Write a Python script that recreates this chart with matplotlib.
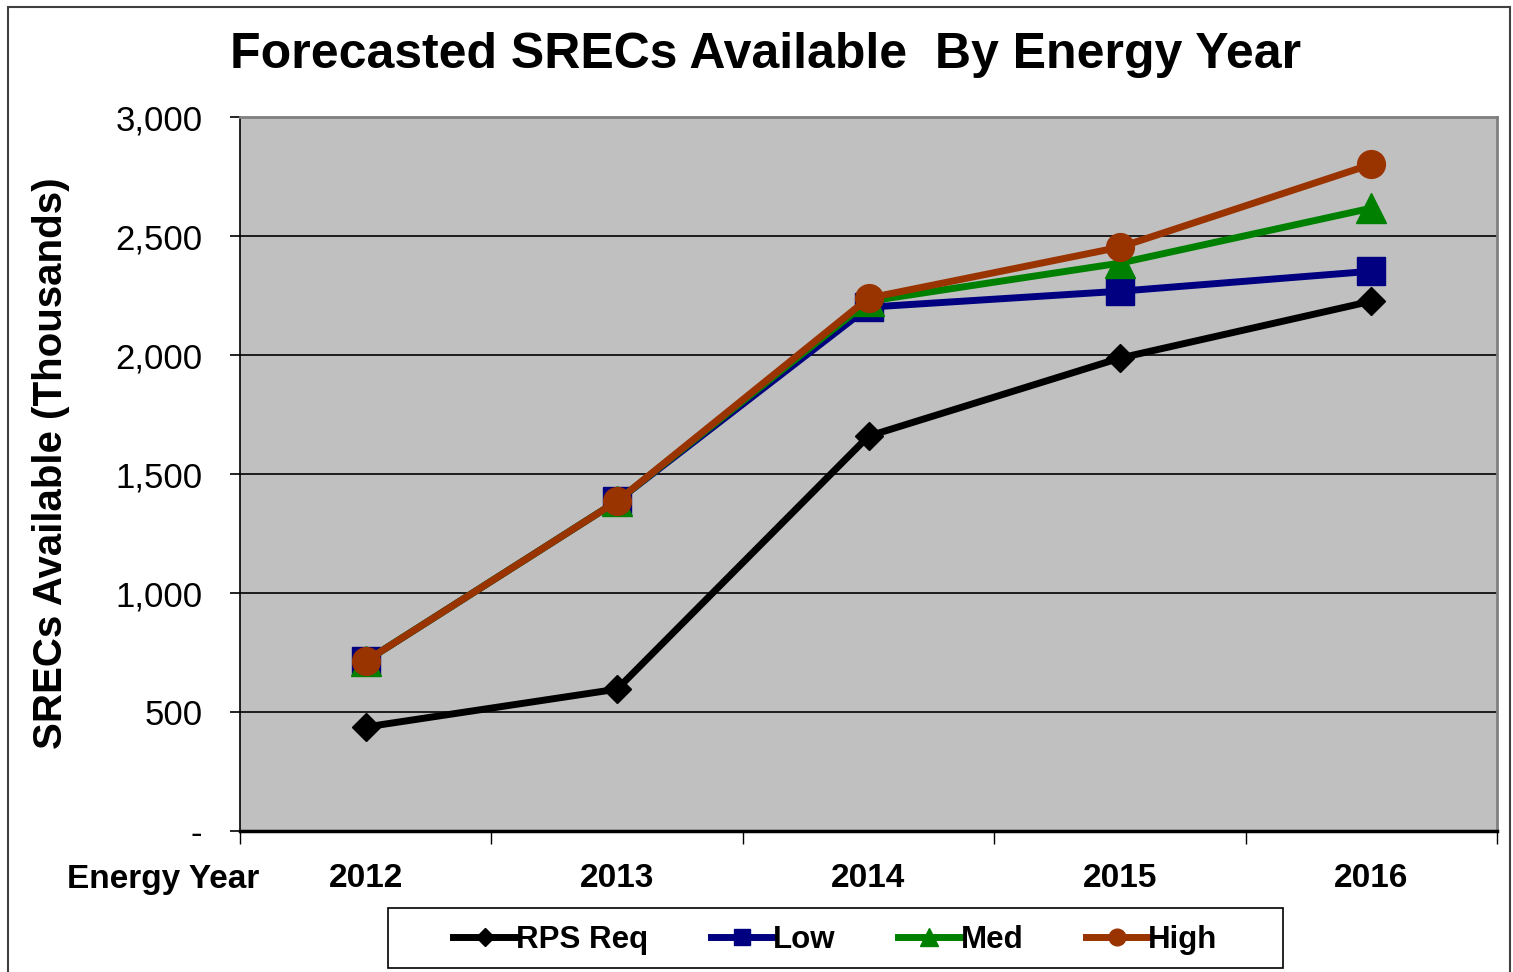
import matplotlib.pyplot as plt
from matplotlib.ticker import FuncFormatter, FixedLocator
from matplotlib.patches import Rectangle

plt.rcParams['font.family'] = ['Liberation Sans', 'DejaVu Sans']

years = ["2012", "2013", "2014", "2015", "2016"]
rps_req = [437, 596, 1659, 1987, 2226]
low = [714, 1386, 2201, 2268, 2352]
med = [714, 1386, 2226, 2386, 2617]
high = [714, 1386, 2239, 2453, 2801]

W, H = 1513, 972
fig = plt.figure(figsize=(W / 100, H / 100), dpi=100)
ax = fig.add_axes([240 / W, 1 - 831 / H, 1257 / W, 714 / H])
ax.set_facecolor("#C0C0C0")

x = range(len(years))
lw = 5
ax.plot(x, rps_req, color="black", lw=lw, marker="D", ms=14.5, label="RPS Req", zorder=3)
ax.plot(x, low, color="#000080", lw=lw, marker="s", ms=20, label="Low", zorder=3)
ax.plot(x, med, color="#008000", lw=lw, marker="^", ms=21, label="Med", zorder=3)
ax.plot(x, high, color="#993300", lw=lw, marker="o", ms=20, label="High", zorder=3)

ax.set_xlim(-0.5, 4.5)
ax.set_ylim(0, 3000)
ax.set_yticks(range(0, 3001, 500))
ax.yaxis.set_major_formatter(FuncFormatter(lambda v, p: "-" if v == 0 else f"{int(v):,}"))
ax.grid(axis="y", color="black", lw=1.2, zorder=1)
ax.set_axisbelow(True)

ax.set_xticks(list(x))
ax.set_xticklabels(years, fontsize=24, fontweight="bold")
ax.tick_params(axis="x", which="major", length=0, pad=23)
ax.xaxis.set_minor_locator(FixedLocator([-0.5, 0.5, 1.5, 2.5, 3.5, 4.5]))
ax.tick_params(axis="x", which="minor", length=9, width=1, direction="out")
ax.tick_params(axis="y", labelsize=25, length=7, width=1.2, direction="out", pad=20)

for s in ["top", "right"]:
    ax.spines[s].set_color("#808080")
    ax.spines[s].set_linewidth(2)
ax.spines["bottom"].set_linewidth(2.5)
ax.spines["left"].set_linewidth(1.2)

ax.set_ylabel("SRECs Available (Thousands)", fontsize=29, fontweight="bold")
ax.yaxis.set_label_coords((70 - 240) / 1257, (831 - 463.5) / 714)
fig.text((237 + 1295) / 2 / W, 1 - 55 / H, "Forecasted SRECs Available  By Energy Year",
         ha="center", va="center", fontsize=36, fontweight="bold")
fig.text(67 / W, 1 - 879 / H, "Energy Year", ha="left", va="center",
         fontsize=24, fontweight="bold")

leg = fig.legend(loc="center", bbox_to_anchor=((388 + 1283) / 2 / W, 1 - 940 / H),
                 ncol=4, prop={"weight": "bold", "size": 22.5}, markerscale=0.6,
                 handlelength=2.0, handletextpad=0.0, columnspacing=2.0,
                 frameon=False, borderaxespad=0)
for line in leg.get_lines():
    line.set_linewidth(5)

# legend frame
fig.patches.append(Rectangle((388 / W, 1 - 968 / H), (1283 - 388) / W, 60 / H,
                             transform=fig.transFigure, fill=False, edgecolor="black", lw=1.2))
# outer chart border
fig.patches.append(Rectangle((8 / W, -0.1), (1510 - 8) / W, 1.1 - 7 / H,
                             transform=fig.transFigure, fill=False, edgecolor="#404040", lw=1.5))

fig.savefig("out.png", dpi=100)
